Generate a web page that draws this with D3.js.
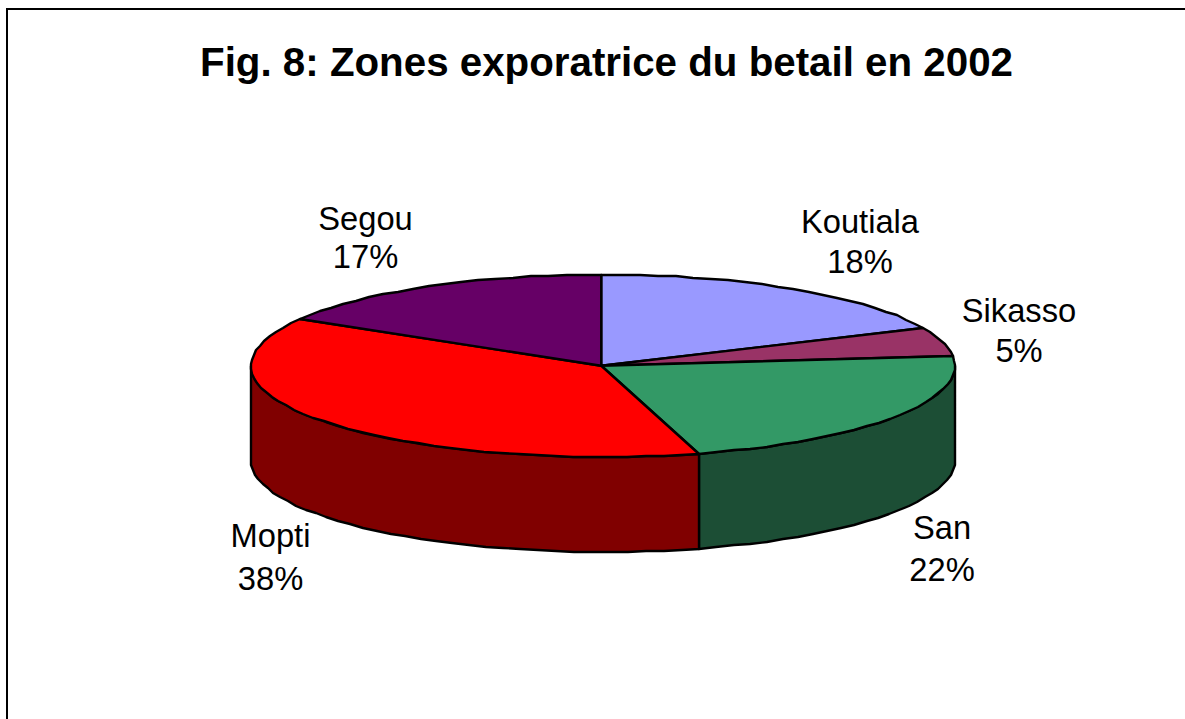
<!DOCTYPE html>
<html><head><meta charset="utf-8">
<script src="https://cdn.jsdelivr.net/npm/d3@7"></script>
<style>html,body{margin:0;padding:0;background:#fff;overflow:hidden}svg{display:block}
text{font-family:"Liberation Sans",Arial,sans-serif;fill:#000}</style></head>
<body><svg id="c" width="1185" height="719"></svg>
<script>
const categories = ["Koutiala","Sikasso","San","Mopti","Segou"];
const values = [18.2,5.1,22.3,37.9,16.5];
const percentLabels = ["18%","5%","22%","38%","17%"];
const topColors = ["#9999FF","#993366","#339966","#FF0000","#660066"];
const sideColors = ["#4C4C80","#4D1933","#1C4E35","#800000","#330033"];
const titleText = "Fig. 8: Zones exporatrice du betail en 2002";
const labelX = [860,1019,942,270.5,365.5];
const labelY = [233,322,539,547,230];
const percentY = [273,362,581,590,268];

const svg = d3.select("#c");
const x = d3.scaleLinear().domain([-1,1]).range([251,955]);
const y = d3.scaleLinear().domain([-1,1]).range([274.5,457]);
const depth = 95;
const apexX = -0.005;
const pie = d3.pie().sort(null).value(d=>d)(values);
// the 12 o'clock point sits directly above the apex, as in the reference
const atTop = t => Math.abs(Math.sin(t)) < 1e-6 && Math.cos(t) > 0;
const px = t => atTop(t) ? x(apexX) : Math.round(x(Math.sin(t)));
const py = t => Math.round(y(-Math.cos(t)));
const arcPts = (a,b) => {
  const n = Math.max(2, Math.ceil(Math.abs(b-a)/(Math.PI/60)));
  return d3.range(n+1).map(i => a+(b-a)*i/n);
};
const line = d3.line();
const black = "#000";
const sw = 2.4;

svg.append("path").attr("d","M7,719V9H1185").attr("fill","none").attr("stroke",black).attr("stroke-width",2);

// side walls (front half of the ellipse only)
pie.forEach((s,i)=>{
  const a = Math.max(s.startAngle,Math.PI/2), b = Math.min(s.endAngle,3*Math.PI/2);
  if (b<=a) return;
  const ts = arcPts(a,b);
  const pts = ts.map(t=>[px(t),py(t)]).concat(ts.slice().reverse().map(t=>[px(t),py(t)+depth]));
  svg.append("path").attr("d",line(pts)+"Z").attr("fill",sideColors[i]).attr("stroke",black).attr("stroke-width",sw).attr("stroke-linejoin","round");
});
// top faces
pie.forEach((s,i)=>{
  const pts = [[x(apexX),y(0)]].concat(arcPts(s.startAngle,s.endAngle).map(t=>[px(t),py(t)]));
  svg.append("path").attr("d",line(pts)+"Z").attr("fill",topColors[i]).attr("stroke",black).attr("stroke-width",sw).attr("stroke-linejoin","round");
});

svg.append("text").attr("x",606.5).attr("y",76).attr("text-anchor","middle").attr("font-weight","bold").attr("font-size",40.3).text(titleText);
categories.forEach((c,i)=>{
  const t = svg.append("text").attr("text-anchor","middle").attr("font-size",32.7);
  t.append("tspan").attr("x",labelX[i]).attr("y",labelY[i]).text(c);
  t.append("tspan").attr("x",labelX[i]).attr("y",percentY[i]).text(percentLabels[i]);
});
</script></body></html>
